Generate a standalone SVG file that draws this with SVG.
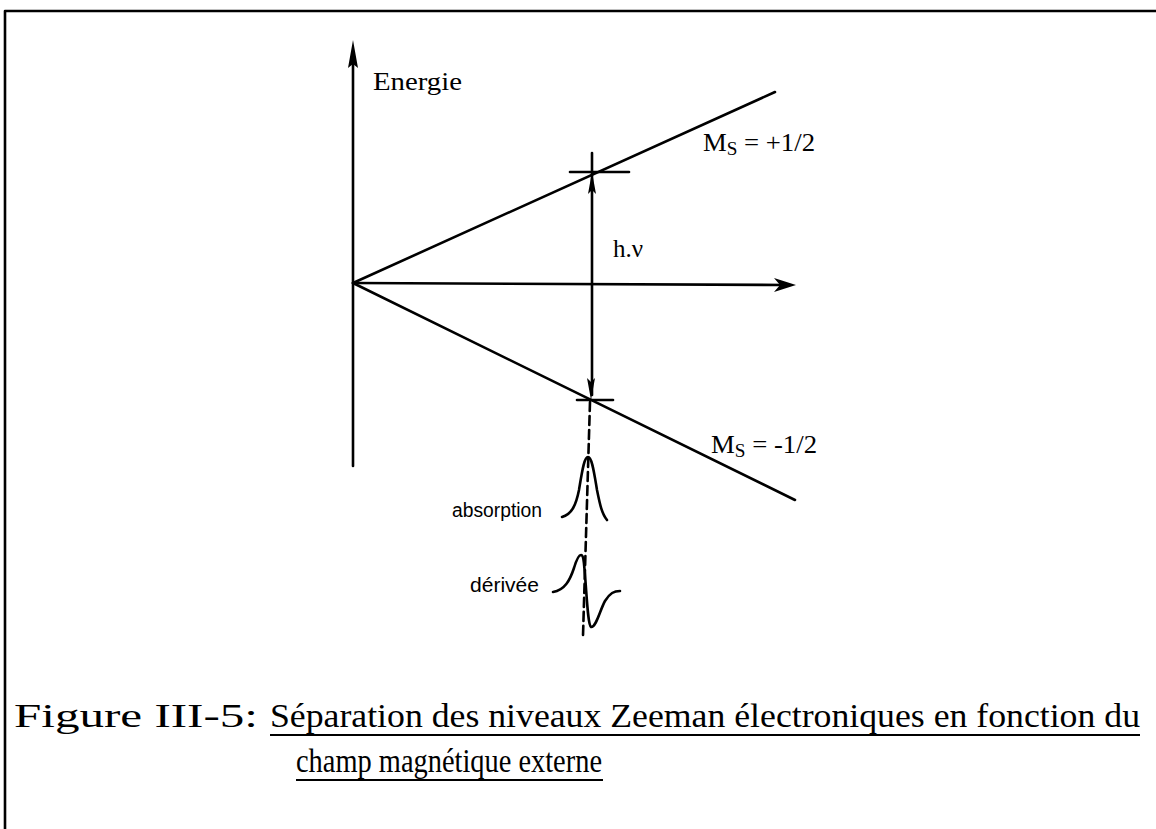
<svg xmlns="http://www.w3.org/2000/svg" width="1156" height="829" viewBox="0 0 1156 829">
<style>
.ln{stroke:#000;stroke-width:2.6;fill:none;stroke-linecap:round}
.thin{stroke:#000;stroke-width:1.8;fill:none}
.ah{fill:#000;stroke:none}
.serif{font-family:"Liberation Serif","Times New Roman",serif;fill:#000}
.sans{font-family:"Liberation Sans",Arial,sans-serif;fill:#000}
.cap{font-family:"Liberation Serif","Times New Roman",serif;font-size:33px;fill:#000}
</style>
<rect width="1156" height="829" fill="#fff"/>
<g id="frame">
<path class="ln" d="M5,11 H1156 M5,11 V829" stroke-width="2.5"/>
</g>
<g id="connectors">
<line class="ln" x1="353" y1="60" x2="353" y2="466"/>
<path class="ah" d="M353,40 L358,68 L353,64 L348,68 Z"/>
<line class="ln" x1="353" y1="283" x2="785" y2="285"/>
<path class="ah" d="M796,285 L774,278 L780,285 L774,292 Z"/>
<line class="ln" x1="353" y1="283" x2="775" y2="92"/>
<line class="ln" x1="353" y1="283" x2="795" y2="500"/>
<line class="ln" x1="592" y1="153" x2="592" y2="395"/>
<path class="ah" d="M592,172 L596,194 L592,190 L588,194 Z"/>
<path class="ah" d="M591,400 L595,378 L591,382 L587,378 Z"/>
<line class="ln" x1="570" y1="172" x2="629" y2="172"/>
<line class="ln" x1="577" y1="400" x2="613" y2="400"/>
<line class="ln" x1="590" y1="402" x2="583" y2="636" stroke-dasharray="9,5"/>
<path class="ln" d="M562,517 C572,514 576,505 579,490 C582,472 584,457 588,457 C592,457 594,472 597,490 C600,505 602,514 607,520"/>
<path class="ln" d="M553,592 C565,590 570,580 574,568 C577,558 579,555 581,555 C584,555 584,565 585,575 C587,600 588,625 591,627 C596,628 600,610 605,601 C610,593 614,591 620,591"/>
</g>
<g id="labels">
<text class="serif" x="373" y="90" font-size="25" textLength="89" lengthAdjust="spacingAndGlyphs">Energie</text>
<text class="serif" x="613" y="257" font-size="25">h.ν</text>
<text class="serif" x="703" y="151" font-size="25" textLength="112" lengthAdjust="spacingAndGlyphs">M<tspan font-size="18" dy="4">S</tspan><tspan dy="-4"> = +1/2</tspan></text>
<text class="serif" x="711" y="453" font-size="25" textLength="106" lengthAdjust="spacingAndGlyphs">M<tspan font-size="18" dy="4">S</tspan><tspan dy="-4"> = -1/2</tspan></text>
<text class="sans" x="452" y="517" font-size="20" textLength="90" lengthAdjust="spacingAndGlyphs">absorption</text>
<text class="sans" x="470" y="592" font-size="20" textLength="69" lengthAdjust="spacingAndGlyphs">dérivée</text>
</g>
<g id="caption">
<text class="cap" x="14" y="727" textLength="244" lengthAdjust="spacingAndGlyphs">Figure III-5:</text>
<text class="cap" x="270" y="727" textLength="870" lengthAdjust="spacingAndGlyphs">Séparation des niveaux Zeeman électroniques en fonction du</text>
<text class="cap" x="296" y="772" textLength="306" lengthAdjust="spacingAndGlyphs">champ magnétique externe</text>
<line class="thin" x1="270" y1="735" x2="1140" y2="735"/>
<line class="thin" x1="296" y1="780" x2="603" y2="780"/>
</g>
</svg>
